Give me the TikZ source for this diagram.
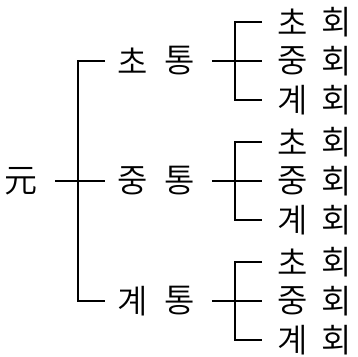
\documentclass[tikz,border=0pt]{standalone}
\usepackage{fontspec}
\newfontfamily\kr{Noto Sans CJK KR DemiLight}
\begin{document}
\begin{tikzpicture}[x=1pt,y=1pt,
  lbl/.style={inner sep=0pt, font=\kr\fontsize{33}{33}\selectfont},
  conn/.style={line width=1.5pt}]
\useasboundingbox (0,0) rectangle (358,356);
% labels
\node[lbl] (root) at (21.5,175) {元};
\foreach \n/\c/\y in {t1/초/295,t2/중/175,t3/계/55}{
  \node[lbl] (\n) at (132.5,\y) {\c};
  \node[lbl] (\n b) at (180,\y) {통};
}
\foreach \g/\y in {1/295,2/175,3/55}{
  \foreach \s/\c/\d in {a/초/39,b/중/0,c/계/-39}{
    \node[lbl] (h\g\s) at (292.5,\y+\d) {\c};
    \node[lbl] (h\g\s2) at (336.5,\y+\d) {회};
  }
}
\coordinate (b0) at (78,0);
\coordinate (b1) at (235,0);
% first level
\draw[conn] ([xshift=17pt]root.east) -- ([xshift=-12pt]t2.west);
\draw[conn] ([xshift=-12pt]t1.west) -- (t1.west -| b0) -- (t3.west -| b0) -- ([xshift=-12pt]t3.west);
% second level
\foreach \g in {1,2,3}{
  \draw[conn] ([xshift=16.5pt]t\g b.east) -- ([xshift=-15pt]h\g b.west);
  \draw[conn] ([xshift=-15pt]h\g a.west) -- (h\g a.west -| b1) -- (h\g c.west -| b1) -- ([xshift=-15pt]h\g c.west);
}
\end{tikzpicture}
\end{document}
